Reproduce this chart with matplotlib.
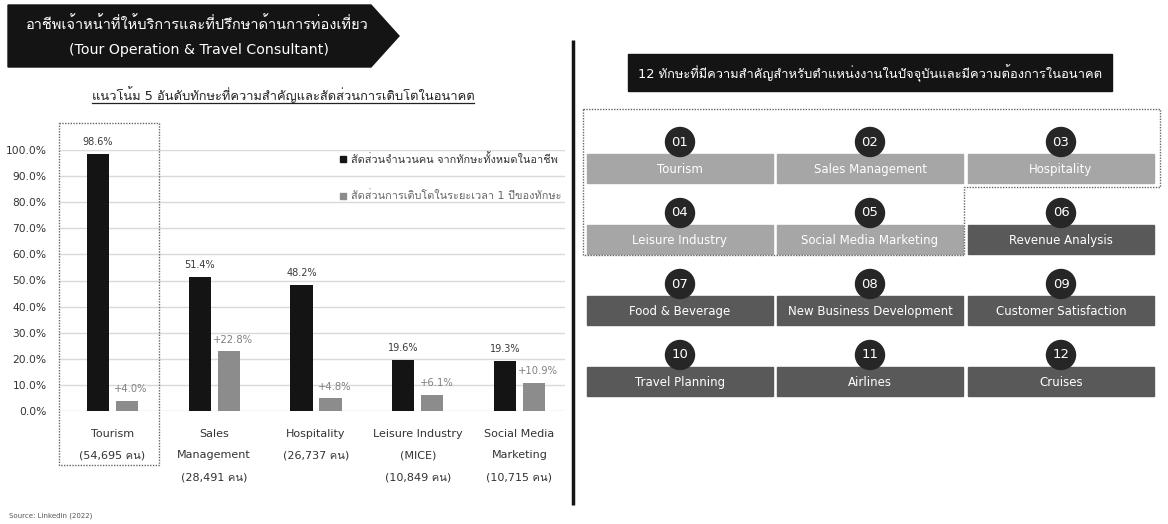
import matplotlib
matplotlib.use("Agg")
from matplotlib import pyplot as plt
from matplotlib.patches import Polygon, Rectangle, Circle

# Skills chart data
skill_labels = [
    ["Tourism", "(54,695 คน)"],
    ["Sales", "Management", "(28,491 คน)"],
    ["Hospitality", "(26,737 คน)"],
    ["Leisure Industry", "(MICE)", "(10,849 คน)"],
    ["Social Media", "Marketing", "(10,715 คน)"],
]
share_pct = [98.6, 51.4, 48.2, 19.6, 19.3]
growth_pct = [4.0, 22.8, 4.8, 6.1, 10.9]
y_ticks = [0, 10, 20, 30, 40, 50, 60, 70, 80, 90, 100]

# Twelve important skills, first five are the top-5 above
key_skills = [
    "Tourism", "Sales Management", "Hospitality",
    "Leisure Industry", "Social Media Marketing", "Revenue Analysis",
    "Food & Beverage", "New Business Development", "Customer Satisfaction",
    "Travel Planning", "Airlines", "Cruises",
]
n_highlight = 5

title_th = "อาชีพเจ้าหน้าที่ให้บริการและที่ปรึกษาด้านการท่องเที่ยว"
title_en = "(Tour Operation & Travel Consultant)"
subtitle = "แนวโน้ม 5 อันดับทักษะที่ความสำคัญและสัดส่วนการเติบโตในอนาคต"
legend_share = "สัดส่วนจำนวนคน จากทักษะทั้งหมดในอาชีพ"
legend_growth = "สัดส่วนการเติบโตในระยะเวลา 1 ปีของทักษะ"
right_title = "12 ทักษะที่มีความสำคัญสำหรับตำแหน่งงานในปัจจุบันและมีความต้องการในอนาคต"
source = "Source: LinkedIn (2022)"

# Latin from DejaVu, Thai glyphs fall back to Loma
plt.rcParams["font.family"] = ["DejaVu Sans", "Loma"]

W, H = 1168, 524
fig = plt.figure(figsize=(W / 100, H / 100), dpi=100)

# bar chart, placed in pixel terms
x0, x1 = 59, 565
y_top, y_bot = 150, 411
ax = fig.add_axes([x0 / W, 1 - y_bot / H, (x1 - x0) / W, (y_bot - y_top) / H], zorder=1)
ax.patch.set_alpha(0)
pitch = 101.75
ax.set_xlim((x0 - 112.5) / pitch, (x1 - 112.5) / pitch)
ax.set_ylim(0, 100)
xs = list(range(len(share_pct)))
off, bw = 0.1425, 0.221
ax.bar([x - off for x in xs], share_pct, bw, color="#141414", zorder=3)
ax.bar([x + off for x in xs], growth_pct, bw, color="#8c8c8c", zorder=3)
for x, v in zip(xs, share_pct):
    ax.annotate(f"{v:.1f}%", (x - off, v), xytext=(0, 5), textcoords="offset points",
                ha="center", va="bottom", fontsize=7, color="#3a3a3a")
for x, v in zip(xs, growth_pct):
    ax.annotate(f"+{v:.1f}%", (x + off, v), xytext=(3, 5), textcoords="offset points",
                ha="center", va="bottom", fontsize=7.2, color="#808080")
ax.set_yticks(y_ticks)
ax.set_yticklabels([f"{t:.1f}%" for t in y_ticks], fontsize=7.7, color="#333333")
ax.tick_params(axis="y", length=0, pad=9)
ax.set_xticks([])
ax.grid(axis="y", color="#d9d9d9", lw=1, zorder=0)
for s in ax.spines.values():
    s.set_visible(False)

# category names under the bars, one line at a time
px_per_pct = (y_bot - y_top) / 100
for x, lines in zip(xs, skill_labels):
    for k, line in enumerate(lines):
        ypix = 434 + 21.5 * k
        ax.text(x, (y_bot - ypix) / px_per_pct, line, ha="center", va="center",
                fontsize=8, color="#333333")

# overlay axes in pixels for shapes and text
ov = fig.add_axes([0, 0, 1, 1], zorder=2)
ov.patch.set_alpha(0)
ov.set_xlim(0, W)
ov.set_ylim(H, 0)
ov.axis("off")

ov.add_patch(Polygon([(8, 5), (371, 5), (399, 36), (371, 67), (8, 67)],
                     closed=True, color="#141414"))
ov.text(197, 24, title_th, ha="center", va="center", color="white", fontsize=10.5)
ov.text(199, 50, title_en, ha="center", va="center", color="white", fontsize=10.2)

ov.text(283, 95, subtitle, ha="center", va="center", color="#222222", fontsize=9.3)
ov.plot([92, 474], [103, 103], color="#222222", lw=0.9)

# legend
ov.add_patch(Rectangle((340, 156), 6, 6, color="#141414"))
ov.add_patch(Rectangle((340, 193), 6, 6, color="#8c8c8c"))
ov.text(351, 159, legend_share, ha="left", va="center", fontsize=7.9, color="#333333")
ov.text(351, 196, legend_growth, ha="left", va="center", fontsize=7.9, color="#666666")

# dotted frame round the top skill
ov.plot([59, 159, 159, 59, 59], [123, 123, 465, 465, 123], color="#666666",
        lw=1, ls=(0, (1, 1)))

# divider
ov.plot([573, 573], [40, 505], color="#141414", lw=2.5, solid_capstyle="butt")

ov.text(9, 516, source, ha="left", va="center", fontsize=5, color="#555555")

# right panel
ov.add_patch(Rectangle((628, 54), 484, 37, color="#141414"))
ov.text(870, 73, right_title, ha="center", va="center", color="white", fontsize=9.3)

col_left = [587, 777, 968]
row_top = [154, 225, 296, 367]
bw_px, bh_px = 186, 29
for i, name in enumerate(key_skills):
    r, c = divmod(i, 3)
    bx, by = col_left[c], row_top[r]
    fc = "#a6a6a6" if i < n_highlight else "#595959"
    ov.add_patch(Rectangle((bx, by), bw_px, bh_px, color=fc, zorder=2))
    ov.text(bx + bw_px / 2, by + bh_px / 2 + 1, name, ha="center", va="center",
            color="white", fontsize=8.5, zorder=4)
    cx = bx + bw_px / 2
    ov.add_patch(Circle((cx, by - 12), 14.5, color="#262626", zorder=3))
    ov.text(cx, by - 12, f"{i + 1:02d}", ha="center", va="center", color="white",
            fontsize=9.5, zorder=4)

ov.plot([583, 1160, 1160, 964, 964, 583, 583], [109, 109, 187, 187, 255, 255, 109],
        color="#666666", lw=1, ls=(0, (1, 1)))

fig.savefig("out.png", dpi=100)
